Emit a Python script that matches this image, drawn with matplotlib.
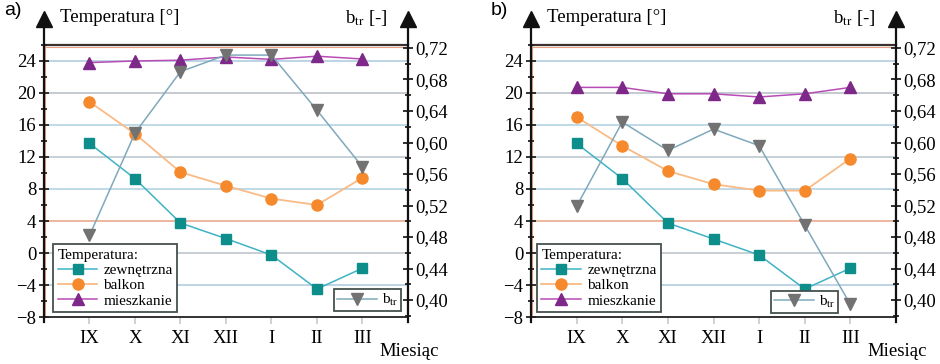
import numpy as np
import matplotlib
matplotlib.use("Agg")
import matplotlib.pyplot as plt
from matplotlib.ticker import FuncFormatter, MultipleLocator

plt.rcParams['font.family'] = 'serif'
plt.rcParams['font.serif'] = ['Liberation Serif', 'DejaVu Serif']
plt.rcParams['mathtext.fontset'] = 'stix'

MONTHS = ["IX", "X", "XI", "XII", "I", "II", "III"]

# panel a
a_zewn = [13.7, 9.3, 3.75, 1.8, -0.25, -4.5, -1.9]
a_balkon = [18.9, 14.9, 10.1, 8.4, 6.8, 6.0, 9.4]
a_mieszk = [23.8, 24.0, 24.1, 24.5, 24.2, 24.6, 24.25]
a_btr = [0.482, 0.612, 0.690, 0.711, 0.711, 0.641, 0.569]

# panel b
b_zewn = [13.7, 9.3, 3.75, 1.75, -0.25, -4.5, -1.9]
b_balkon = [17.0, 13.4, 10.25, 8.6, 7.8, 7.8, 11.8]
b_mieszk = [20.7, 20.7, 19.9, 19.9, 19.5, 19.9, 20.7]
b_btr = [0.519, 0.626, 0.590, 0.617, 0.596, 0.495, 0.3945]

TEMP_TICKS = [-8, -4, 0, 4, 8, 12, 16, 20, 24]
GRID_COLORS = ['#b8ccd8', '#a9c9dc', '#b9c1c8', '#eaa283', '#aecfe2',
               '#b8c4cc', '#aecfe2', '#b4bcc4', '#a9c9dc']
BTR_TICKS = [0.40, 0.44, 0.48, 0.52, 0.56, 0.60, 0.64, 0.68, 0.72]

C_ZEWN = ('#0e8e8a', '#3fb3c4')
C_BALK = ('#f5892c', '#f9bb86')
C_MIES = ('#7e2889', '#b84cb6')
C_BTR = ('#727272', '#7fa9bb')
FRAME = '#44504f'


def draw_panel(ax, letter, zewn, balkon, mieszk, btr, leg1_anchor, leg2_anchor):
    x = np.arange(1, len(MONTHS) + 1)
    ax.set_xlim(0, 8)
    ax.set_ylim(-8, 26)
    for sp in ['top', 'right', 'left']:
        ax.spines[sp].set_visible(False)
    ax.spines['bottom'].set_color('#222222')
    ax.spines['bottom'].set_linewidth(1.3)

    for t, c in zip(TEMP_TICKS, GRID_COLORS):
        if t == -8:
            continue
        ax.axhline(t, color=c, lw=1.1, zorder=0)
    ax.axhline(25.75, color='#eaa283', lw=0.8, zorder=0)
    ax.axhline(26, color='#3a3030', lw=1.6, zorder=1, clip_on=False)
    ax.axvline(7.97, color='#eaa283', lw=0.8, zorder=0)
    ax.axvline(0.03, color='#eaa283', lw=0.8, zorder=0)

    ax.set_yticks(TEMP_TICKS)
    ax.yaxis.set_minor_locator(MultipleLocator(2))
    ax.tick_params(axis='y', which='both', direction='inout', length=7,
                   width=1.3, color='#222222', labelsize=13.5, pad=2)
    ax.tick_params(axis='y', which='minor', length=5)
    ax.set_xticks(x)
    ax.set_xticklabels(MONTHS)
    ax.tick_params(axis='x', direction='out', length=5, width=1.2,
                   color='#c8c8c8', labelsize=13.5, pad=4)

    l1, = ax.plot(x, zewn, color=C_ZEWN[1], lw=1.1, marker='s', ms=7,
                  mfc=C_ZEWN[0], mec=C_ZEWN[0], zorder=3)
    l2, = ax.plot(x, balkon, color=C_BALK[1], lw=1.3, marker='o', ms=8,
                  mfc=C_BALK[0], mec=C_BALK[0], zorder=3)
    l3, = ax.plot(x, mieszk, color=C_MIES[1], lw=1.1, marker='^', ms=8.5,
                  mfc=C_MIES[0], mec=C_MIES[0], zorder=3)

    ax2 = ax.twinx()
    ax2.set_ylim(0.3785, 0.7238)
    for sp in ['top', 'right', 'left', 'bottom']:
        ax2.spines[sp].set_visible(False)
    ax2.set_yticks(BTR_TICKS)
    ax2.yaxis.set_minor_locator(MultipleLocator(0.02))
    ax2.yaxis.set_major_formatter(FuncFormatter(lambda v, p: f"{v:.2f}".replace('.', ',')))
    ax2.tick_params(axis='y', which='both', direction='inout', length=7,
                    width=1.3, color='#222222', labelsize=13.5, pad=2)
    ax2.tick_params(axis='y', which='minor', length=5)
    l4, = ax2.plot(x, btr, color=C_BTR[1], lw=1.1, marker='v', ms=9,
                   mfc=C_BTR[0], mec=C_BTR[0], zorder=3)

    # axis lines with arrows
    for xa in (0, 1):
        ax2.plot([xa, xa], [-0.02, 1.10], transform=ax.transAxes, color='#111111',
                 lw=1.6, clip_on=False, zorder=5)
        ax2.plot([xa], [1.095], transform=ax.transAxes, marker='^', ms=12,
                 color='#111111', clip_on=False, zorder=5)

    leg = ax2.legend([l1, l2, l3], ['zewnętrzna', 'balkon', 'mieszkanie'],
                     title='Temperatura:', loc='lower left', bbox_to_anchor=leg1_anchor,
                     borderaxespad=0, fontsize=11, title_fontsize=11,
                     fancybox=False, framealpha=1, edgecolor=FRAME,
                     handlelength=2.6, handletextpad=0.4, labelspacing=0.1,
                     borderpad=0.3)
    leg._legend_box.align = 'left'
    leg.get_frame().set_linewidth(1.3)
    ax2.add_artist(leg)
    leg2 = ax2.legend([l4], [r'b$_{\mathrm{tr}}$'], loc='lower right',
                      bbox_to_anchor=leg2_anchor, borderaxespad=0, fontsize=11,
                      fancybox=False, framealpha=1, edgecolor=FRAME,
                      handlelength=2.6, handletextpad=0.3, borderpad=0.2)
    leg2.get_frame().set_linewidth(1.3)

    ax.text(-0.11, 1.125, letter, transform=ax.transAxes, fontsize=14,
            family='Liberation Sans', ha='left', va='center')
    ax.text(0.045, 1.10, 'Temperatura [°]', transform=ax.transAxes,
            fontsize=13.5, ha='left', va='center')
    ax.text(0.945, 1.10, r'b$_{\mathrm{tr}}$ [-]', transform=ax.transAxes,
            fontsize=13.5, ha='right', va='center')
    ax.text(1.085, -0.095, 'Miesiąc', transform=ax.transAxes,
            fontsize=13.5, ha='right', va='top')


fig = plt.figure(figsize=(9.4, 3.64), dpi=100)
ax_a = fig.add_axes([0.0468, 0.1291, 0.3872, 0.7473])
ax_b = fig.add_axes([0.5649, 0.1291, 0.3883, 0.7473])

draw_panel(ax_a, 'a)', a_zewn, a_balkon, a_mieszk, a_btr, (0.025, 0.018), (0.981, 0.022))
draw_panel(ax_b, 'b)', b_zewn, b_balkon, b_mieszk, b_btr, (0.016, 0.018), (0.841, 0.015))

fig.savefig("out.png", dpi=100)
